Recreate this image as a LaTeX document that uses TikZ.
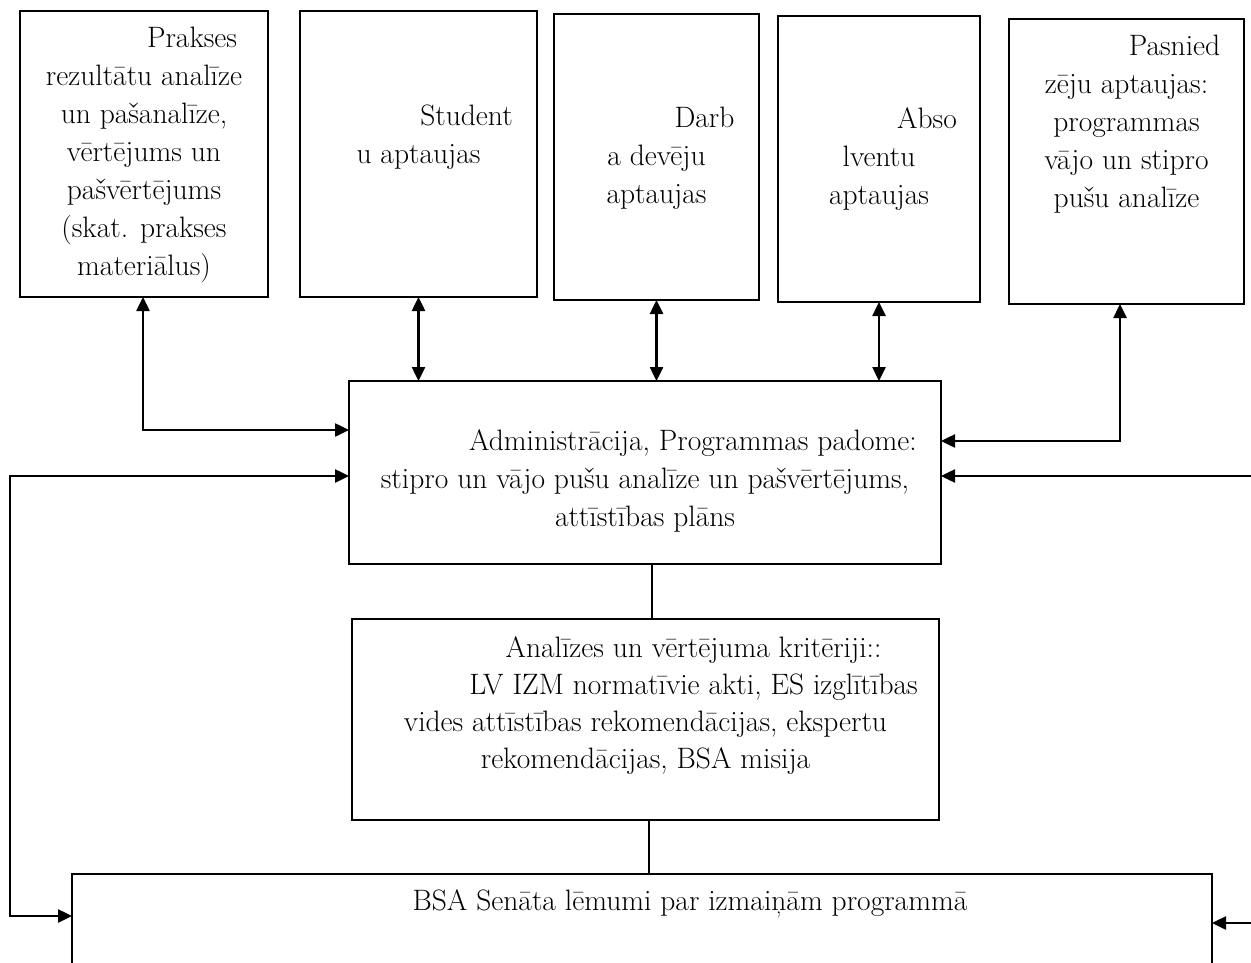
\documentclass[tikz,border=0pt]{standalone}
\usepackage{fontspec}
\usetikzlibrary{arrows.meta}
\tikzset{
  box/.style={draw, line width=1.6pt, inner sep=0pt, outer sep=0pt},
  txt/.style={align=center, anchor=north, inner sep=0pt, font=\fontsize{29.5}{38}\selectfont},
  conn/.style={line width=2.5pt},
  plain/.style={line width=1.6pt},
  arr/.style={conn, -{Triangle[length=14pt,width=13pt]}},
  darr/.style={conn, {Triangle[length=14pt,width=13pt]}-{Triangle[length=14pt,width=13pt]}},
}
\newcommand{\ind}{\rule{0pt}{21pt}\hspace*{96pt}}
\begin{document}
\begin{tikzpicture}[x=1pt,y=-1pt]
\useasboundingbox (0,0) rectangle (1251,963);
\clip (0,0) rectangle (1251,963);
\fill[white] (0,0) rectangle (1251,963);

% boxes
\node[box, minimum width=248pt, minimum height=286pt] (b1) at (144,154) {};
\node[box, minimum width=237pt, minimum height=286pt] (b2) at (418.5,154) {};
\node[box, minimum width=205pt, minimum height=286pt] (b3) at (656.5,157) {};
\node[box, minimum width=202pt, minimum height=286pt] (b4) at (879,159) {};
\node[box, minimum width=235pt, minimum height=285pt] (b5) at (1126.5,161.5) {};
\node[box, minimum width=592pt, minimum height=183pt] (admin) at (645,472.5) {};
\node[box, minimum width=587pt, minimum height=201pt] (crit) at (645.5,719.5) {};
\node[box, minimum width=1140pt, minimum height=136pt] (bot) at (642,942) {};

% texts
\node[txt] (t1) at (144,26) {\ind Prakses\\ rezultātu analīze\\ un pašanalīze,\\ vērtējums un\\ pašvērtējums\\ (skat. prakses\\ materiālus)};
\node[txt] (t2) at (418.5,104) {\ind Student\\ u aptaujas};
\node[txt] (t3) at (656.5,106) {\ind Darb\\ a devēju\\ aptaujas};
\node[txt] (t4) at (879,107) {\ind Abso\\ lventu\\ aptaujas};
\node[txt] (t5) at (1126.5,34) {\ind Pasnied\\ zēju aptaujas:\\ programmas\\ vājo un stipro\\ pušu analīze};
\node[txt] (ta) at (645,429) {\ind Administrācija, Programmas padome:\\ stipro un vājo pušu analīze un pašvērtējums,\\ attīstības plāns};
\node[txt, font=\fontsize{29.5}{37}\selectfont] (tc) at (645.5,636) {\ind Analīzes un vērtējuma kritēriji::\\ \ind LV IZM normatīvie akti, ES izglītības\\ vides attīstības rekomendācijas, ekspertu\\ rekomendācijas, BSA misija};
\node[txt] (tb) at (642,889) {\ind BSA Senāta lēmumi par izmaiņām programmā};

% connector bends and free ends
\coordinate (k1) at (143,430);
\coordinate (k5) at (1120,441);
\coordinate (kl1) at (10,476);
\coordinate (kl2) at (10,916);
\coordinate (r1) at (1251,476);
\coordinate (r2) at (1251,923);
\coordinate (m1) at (652,600);
\coordinate (m2) at (649,850);

\draw[darr] (b1.south -| k1) -- (k1) -- (admin.west |- k1);
\draw[darr] (b2.south) -- (b2.south |- admin.north);
\draw[darr] (b3.south) -- (b3.south |- admin.north);
\draw[darr] (b4.south) -- (b4.south |- admin.north);
\draw[darr] (admin.east |- k5) -- (k5) -- (k5 |- b5.south);
\draw[darr] (admin.west |- kl1) -- (kl1) -- (kl2) -- (bot.west |- kl2);
\draw[arr] (r1) -- (admin.east |- r1);
\draw[arr] (r2) -- (bot.east |- r2);
\draw[plain] (m1 |- admin.south) -- (m1 |- crit.north);
\draw[plain] (m2 |- crit.south) -- (m2 |- bot.north);
\end{tikzpicture}
\end{document}
